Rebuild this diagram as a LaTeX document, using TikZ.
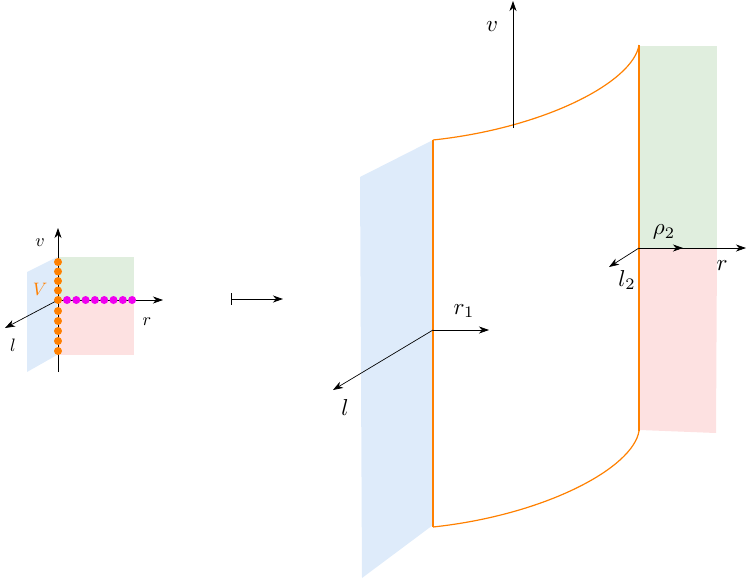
\documentclass[tikz,border=0pt]{standalone}
\usetikzlibrary{arrows.meta}
\definecolor{pblue}{RGB}{222,235,250}
\definecolor{pgreen}{RGB}{224,238,222}
\definecolor{pred}{RGB}{253,225,225}
\definecolor{sorange}{RGB}{255,128,0}
\definecolor{smag}{RGB}{240,0,240}
\newcommand{\mybiglbl}[1]{\scalebox{2.3}{$#1$}}
\newcommand{\mysmalllbl}[1]{\scalebox{1.8}{$#1$}}
\begin{document}
\begin{tikzpicture}[x=1pt,y=-1pt,
  ax/.style={-{Stealth[length=10pt,width=7pt,inset=3pt]},line width=0.7pt},
  surf/.style={sorange,line width=1.2pt},
  odot/.style={circle,fill=sorange,inner sep=0pt,minimum size=8pt},
  mdot/.style={circle,fill=smag,inner sep=0pt,minimum size=8pt}]
\useasboundingbox (0,0) rectangle (747,579);
% ---------- small diagram
\fill[pblue] (27,272) -- (57,257) -- (57,355) -- (27,372) -- cycle;
\fill[pgreen] (58,257) rectangle (134,300);
\fill[pred] (58,300) rectangle (134,355);
\coordinate (o) at (58,300);
\coordinate (vt) at (58,228);
\coordinate (vb) at (58,372);
\coordinate (rt) at (163,300);
\coordinate (lt) at (5,328);
\draw[line width=0.7pt] (vb) -- (o);
\draw[ax] (o) -- (vt);
\draw[ax] (o) -- (rt);
\draw[ax] (o) -- (lt);
\foreach \y in {262,271.5,281,290.5,300,311,321,331,341,351}
  \node[odot] at (58,\y) {};
\foreach \i in {0,...,7}
  \node[mdot] at (67+9.3*\i,300) {};
\node (lv) at (40,243) {\mysmalllbl{v}};
\node (lr) at (147,322) {\mysmalllbl{r}};
\node (ll) at (13,345) {\mysmalllbl{l}};
\node[text=sorange] (lV) at (40,289) {\mysmalllbl{V}};
% ---------- mapsto
\coordinate (ma) at (231,299);
\coordinate (mb) at (283,299);
\draw[ax,line width=1pt] (ma) -- (mb);
\draw[line width=1pt] (231,293) -- (231,305);
% ---------- big diagram
\fill[pblue] (360,177) -- (433,140) -- (433,525) -- (362,578) -- cycle;
\fill[pgreen] (640,46) rectangle (717,248);
\fill[pred] (640,248) -- (717,248) -- (716,433) -- (640,430) -- cycle;
\coordinate (tl) at (433,140);
\coordinate (tr) at (639,45);
\coordinate (bl) at (433,527);
\coordinate (br) at (639,431);
\draw[surf] (tl) .. controls (545,128) and (633,82) .. (tr);
\draw[surf] (bl) .. controls (545,515) and (633,468) .. (br);
\draw[surf] (tl) -- (bl);
\draw[surf] (tr) -- (br);
\coordinate (vo) at (513,128);
\coordinate (vtop) at (513,1);
\draw[ax] (vo) -- (vtop);
\coordinate (o1) at (433,330);
\coordinate (r1t) at (489,330);
\coordinate (l1t) at (333,390);
\draw[ax] (o1) -- (r1t);
\draw[ax] (o1) -- (l1t);
\coordinate (o2) at (639,248);
\coordinate (rho) at (683,248);
\coordinate (r2t) at (746,248);
\coordinate (l2t) at (609,267);
\draw[ax] (o2) -- (r2t);
\draw[ax] (o2) -- (rho);
\draw[ax] (o2) -- (l2t);
\node (nv) at (492,27) {\mybiglbl{v}};
\node (nr) at (722,266) {\mybiglbl{r}};
\node (nrho) at (664,232) {\mybiglbl{\rho_2}};
\node (nl2) at (627,280) {\mybiglbl{l_2}};
\node (nr1) at (464,311) {\mybiglbl{r_1}};
\node (nl) at (345,408) {\mybiglbl{l}};
\end{tikzpicture}
\end{document}
